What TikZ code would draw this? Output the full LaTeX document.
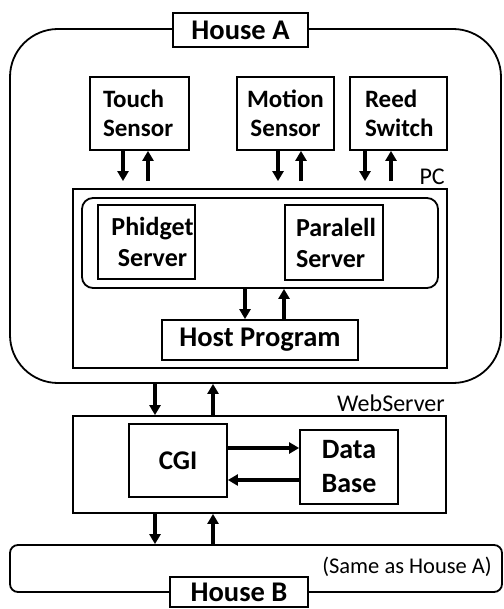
\documentclass[tikz,border=0pt]{standalone}
\usepackage{fontspec}
\setmainfont{Carlito}
\usetikzlibrary{arrows.meta}

\tikzset{
  box/.style={draw=black, line width=1.8pt, inner sep=0pt, align=center},
  sensorfont/.style={font=\bfseries\fontsize{25}{28.5}\selectfont},
  serverfont/.style={font=\bfseries\fontsize{26}{31}\selectfont},
  bigfont/.style={font=\bfseries\fontsize{28.5}{34}\selectfont},
  plainlabel/.style={inner sep=0pt, font=\fontsize{24}{28}\selectfont},
  arr/.style={line width=3.4pt, -{Triangle[width=11pt,length=10pt]}},
}

\begin{document}
\begin{tikzpicture}[x=1pt, y=-1pt]
\useasboundingbox (0,0) rectangle (503,609);
\clip (0,0) rectangle (503,609);
\fill[white] (0,0) rectangle (503,609);

% ---- House A ----
\node[box, rounded corners=48pt, minimum width=491pt, minimum height=354pt]
  (housea) at (255.5,206) {};
\node[box, fill=white, bigfont, minimum width=135pt, minimum height=34pt]
  (housealabel) at (240.5,30) {House A};

% sensors
\node[box, sensorfont, align=left, inner xsep=13pt, text width=73pt,
  minimum width=99pt, minimum height=73pt] (touch) at (139.5,113.5) {Touch\\Sensor};
\node[box, sensorfont, minimum width=97pt, minimum height=73pt]
  (motion) at (285.5,113.5) {Motion\\Sensor};
\node[box, sensorfont, align=left, inner xsep=15pt, text width=67pt,
  minimum width=97pt, minimum height=73pt] (reed) at (398.5,113.5) {Reed\\Switch};

% PC
\node[box, minimum width=374pt, minimum height=179pt] (pc) at (260,278.5) {};
\node[plainlabel, anchor=base east] (pclabel) at ([xshift=-3pt,yshift=4pt]pc.north east) {PC};
\node[box, rounded corners=11pt, minimum width=356pt, minimum height=90pt]
  (servers) at (260,243) {};
\node[box, serverfont, minimum width=97pt, minimum height=74pt]
  (phidget) at (146.5,242) {\hspace*{12pt}Phidget\\\hspace*{12pt}Server};
\node[box, serverfont, align=left, inner xsep=11pt, text width=76pt,
  minimum width=98pt, minimum height=75pt] (paralell) at (334,242.5) {Paralell\\Server};
\node[box, bigfont, minimum width=196pt, minimum height=40pt]
  (host) at (260,340) {Host Program};

% sensor <-> PC
\foreach \n/\d/\u in {touch/-16.5/8.5, motion/-7.5/15.5, reed/-33.5/-7.5} {
  \draw[arr, shorten >=7pt] ([xshift=\d pt]\n.south) -- ([xshift=\d pt]\n.south |- pc.north);
  \draw[arr, shorten <=7pt] ([xshift=\u pt]\n.south |- pc.north) -- ([xshift=\u pt]\n.south);
}

% servers <-> host program
\draw[arr] ([xshift=-15pt]servers.south) -- ([xshift=-15pt]servers.south |- host.north);
\draw[arr] ([xshift=24pt]servers.south |- host.north) -- ([xshift=24pt]servers.south);

% ---- WebServer ----
\node[box, minimum width=373pt, minimum height=97pt] (web) at (259.5,464.5) {};
\node[plainlabel, anchor=base east] (weblabel) at ([xshift=-2pt,yshift=4pt]web.north east) {WebServer};
\node[box, font=\bfseries\fontsize{27}{32}\selectfont, minimum width=98pt, minimum height=73pt]
  (cgi) at (178,460.5) {CGI};
\node[box, font=\bfseries\fontsize{28}{34}\selectfont, minimum width=98pt, minimum height=74pt]
  (db) at (349,467) {Data\\Base};

\draw[arr] ([yshift=12.5pt]cgi.east) -- ([yshift=12.5pt]cgi.east -| db.west);
\draw[arr] ([yshift=-19.5pt]cgi.east -| db.west) -- ([yshift=-19.5pt]cgi.east);

% House A <-> WebServer
\draw[arr] ([xshift=-104.5pt]web.north |- housea.south) -- ([xshift=-104.5pt]web.north);
\draw[arr] ([xshift=-46.5pt]web.north) -- ([xshift=-46.5pt]web.north |- housea.south);

% ---- House B ----
\node[box, rounded corners=8pt, minimum width=492pt, minimum height=47pt]
  (houseb) at (256,568.5) {};
\node[plainlabel, font=\fontsize{22.5}{27}\selectfont, anchor=base east]
  (same) at (492,573) {(Same as House A)};
\node[box, fill=white, bigfont, minimum width=138pt, minimum height=30pt]
  (houseblabel) at (239,592) {House B};

% WebServer <-> House B
\draw[arr] ([xshift=-104.5pt]web.south) -- ([xshift=-104.5pt]web.south |- houseb.north);
\draw[arr] ([xshift=-46.5pt]web.south |- houseb.north) -- ([xshift=-46.5pt]web.south);
\end{tikzpicture}
\end{document}
